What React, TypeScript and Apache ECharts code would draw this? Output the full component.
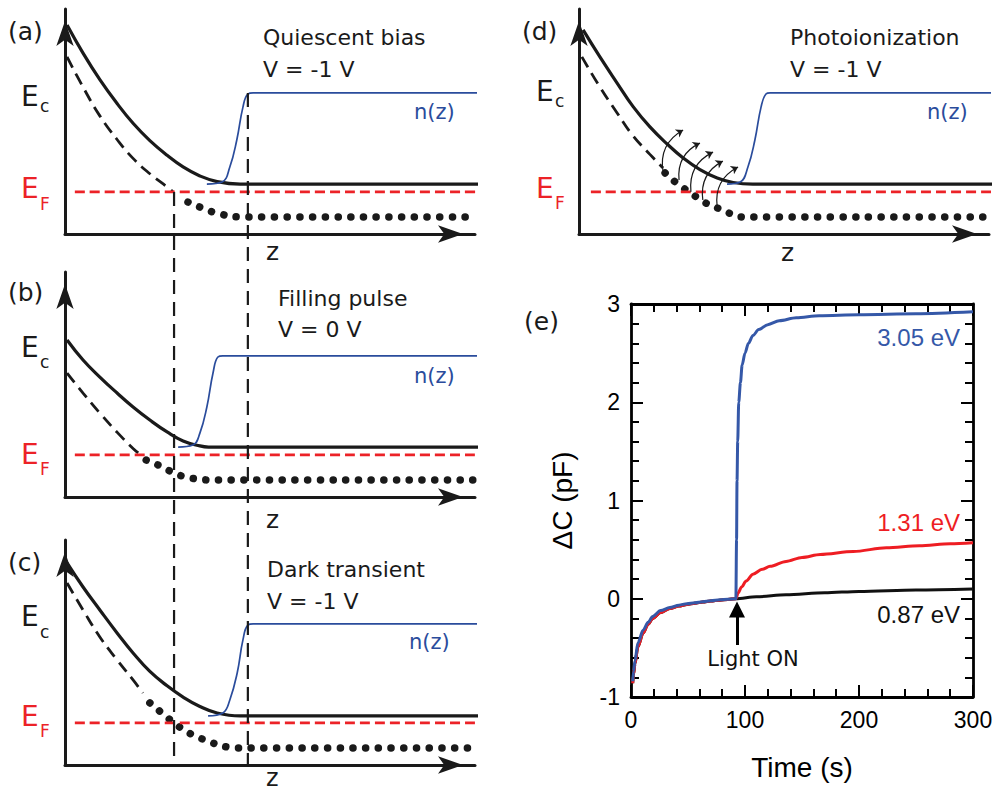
import React, { useEffect, useRef } from "react";
import * as echarts from "echarts";

// ---------- Schematic panels (arbitrary units: z 0..100, energy 0..100) ----------
// Panel (a) Quiescent bias
const aEc = [[0.5, 92.9], [4.4, 80.4], [8.5, 68.6], [12.7, 58], [16.6, 49.2], [20.7, 41.5], [24.9, 35], [28.8, 29.8], [32.9, 25.8], [37.1, 23.3], [42.7, 22.2], [101.7, 22.2]];
const aTrap = [[0.5, 78.7], [4.4, 65.3], [8.5, 52.5], [12.7, 42], [16.6, 33.6], [20.7, 26.8], [24.9, 20.9], [26.3, 18.9]];
const aTrapFilled = [[30, 14.2], [33.4, 11.6], [37, 9.3], [42.7, 7.6], [98.8, 7.6]];
const aEF = [[2.4, 18.7], [101.7, 18.7]];
const aN = [[34.6, 22.2], [38.3, 23.1], [40.2, 29.8], [41.9, 41.8], [43.4, 56.4], [44.6, 62.2], [45.9, 62.7], [100.7, 62.7]];

// Panel (b) Filling pulse
const bEc = [[0.5, 69.8], [4.4, 60.9], [8.5, 53.3], [12.7, 46.2], [16.6, 40], [20.7, 34.2], [24.9, 28.9], [28.8, 24.9], [32.9, 22.7], [35, 22.2], [102.4, 22.2]];
const bTrap = [[0.5, 55.1], [4.4, 46.2], [8.5, 37.3], [12.7, 28.8], [16.6, 21.6], [18.8, 18.2]];
const bTrapFilled = [[19.8, 16.4], [23.2, 13.8], [26.1, 11.1], [29.3, 8.9], [32.2, 8], [34.9, 7.6], [100.7, 7.6]];
const bEF = [[2.4, 18.7], [102.4, 18.7]];
const bN = [[27.6, 22.2], [31.2, 23.1], [32.9, 28.4], [34.6, 40], [36.1, 55.1], [37.3, 62.2], [38.5, 62.7], [101.7, 62.7]];

// Panel (c) Dark transient
const cEc = [[0.5, 89.8], [4.4, 79.1], [8.5, 68.9], [12.7, 58.7], [16.6, 49.8], [20.7, 41.6], [24.9, 35.2], [28.8, 30.2], [32.9, 26], [37.1, 23.1], [42.7, 21.8], [101.2, 21.8]];
const cTrap = [[0.5, 80.9], [4.4, 68.9], [8.5, 56.9], [12.7, 46.7], [16.6, 37.8], [19, 32]];
const cTrapFilled = [[20.7, 27.6], [23.9, 22.7], [26.6, 18.7], [29.8, 14.7], [32.9, 12], [36, 9.8], [39.5, 8], [42.2, 7.6], [98.8, 7.6]];
const cEF = [[2.4, 18.7], [101.2, 18.7]];
const cN = [[34.9, 21.8], [38.5, 23.1], [40.2, 28.9], [42, 40.9], [43.4, 55.6], [44.6, 62.2], [45.9, 62.7], [100.7, 62.7]];

// Panel (d) Photoionization
const dEc = [[1, 90.7], [5.1, 78.7], [9.3, 67.1], [13.2, 56.6], [17.3, 47.6], [21.5, 40], [25.4, 33.8], [29.5, 28.6], [33.7, 24.9], [37.6, 22.9], [42.4, 22.2], [101.7, 22.2]];
const dTrap = [[0.7, 78.7], [5.1, 65.3], [9.3, 53.8], [13.2, 43.6], [17.3, 35.4], [20.5, 29.3]];
const dTrapFilled = [[21, 27.1], [24.1, 22.2], [27.3, 18.2], [30.5, 14.2], [33.7, 11.6], [36.6, 9.3], [39.8, 7.6], [99.8, 7.6]];
const dEF = [[2.9, 18.7], [101.7, 18.7]];
const dN = [[36.1, 22.2], [39.3, 23.1], [41.2, 29.8], [42.9, 41.8], [44.4, 56.4], [45.6, 62.2], [46.6, 62.7], [101.7, 62.7]];
const dEmission = [
  [[20.5, 27.6], [25.4, 46.2]],
  [[24.4, 24], [29.5, 40.4]],
  [[27.3, 18.7], [32.7, 36.4]],
  [[30.2, 15.1], [35.1, 32.4]],
  [[33.7, 12], [38.8, 29.8]],
];

// Vertical guides through panels (a)-(c) (overlay units: z 0..100, height 0..100)
const guideLeft = [[26.6, 75.8], [26.6, 0]];
const guideRight = [[44.6, 88.9], [44.6, 0]];

// ---------- Panel (e): capacitance transients ----------
const dc087 = [[1.5, -0.86], [2.2, -0.77], [3.5, -0.66], [6, -0.49], [10.6, -0.35], [15, -0.26], [19, -0.2], [26, -0.14], [34, -0.1], [42, -0.075], [49, -0.058], [56, -0.045], [63, -0.034], [70, -0.024], [78, -0.014], [85, -0.007], [92, 0], [110, 0.02], [136, 0.04], [170, 0.06], [200, 0.075], [250, 0.09], [300, 0.1]];
const dc131 = [[1.5, -0.86], [2.2, -0.77], [3.5, -0.66], [6, -0.49], [10.6, -0.35], [15, -0.26], [19, -0.2], [26, -0.14], [34, -0.1], [42, -0.075], [49, -0.058], [56, -0.045], [63, -0.034], [70, -0.024], [78, -0.014], [85, -0.007], [92, 0], [94, 0.06], [97, 0.12], [101, 0.18], [107, 0.25], [115, 0.3], [122, 0.33], [136, 0.38], [150, 0.42], [166, 0.45], [195, 0.48], [224, 0.52], [253, 0.54], [280, 0.56], [300, 0.57]];
const dc305 = [[1.5, -0.84], [2.2, -0.74], [3.5, -0.63], [6, -0.45], [10.6, -0.32], [15, -0.24], [19, -0.18], [26, -0.12], [34, -0.09], [42, -0.065], [49, -0.05], [56, -0.04], [63, -0.03], [70, -0.02], [78, -0.01], [85, -0.005], [92, 0], [92.6, 0.6], [93, 1.2], [93.6, 1.6], [94.5, 2.0], [96, 2.2], [97.5, 2.38], [100, 2.5], [103, 2.6], [107, 2.68], [112, 2.74], [120, 2.79], [130, 2.83], [145, 2.86], [165, 2.88], [200, 2.89], [250, 2.9], [300, 2.92]];
const lightOn = [[93, -0.47], [93, -0.11]];
const xTickLabels = ["0", "100", "200", "300"];

const S_FONT = "DejaVu Sans";
const P_FONT = "Liberation Sans";
const BLACK = "#1a1a1a";
const RED = "#ec2227";
const BLUE_S = "#2a4c9c";
const BLUE_P = "#3558a8";

function txt(text: string, x: number, y: number, size: number, color = BLACK, align = "left", family = S_FONT) {
  return {
    type: "text",
    x,
    y,
    silent: true,
    style: { text, fill: color, fontSize: size, fontFamily: family, align, verticalAlign: "middle" },
  };
}

const schemGrids = [
  { left: 65, top: 9, width: 410, height: 225 },
  { left: 65, top: 272, width: 410, height: 225 },
  { left: 65, top: 540, width: 410, height: 225 },
  { left: 579, top: 9, width: 410, height: 225 },
];

function arrowAxis(gridIndex: number) {
  return {
    type: "value",
    gridIndex,
    min: 0,
    max: 100,
    axisLine: {
      show: true,
      onZero: false,
      symbol: ["none", "arrow"],
      symbolSize: [13, 25],
      symbolOffset: [0, -12],
      lineStyle: { color: BLACK, width: 3 },
    },
    axisTick: { show: false },
    axisLabel: { show: false },
    splitLine: { show: false },
  };
}

function lineS(idx: number, data: number[][], style: any, z = 2) {
  return {
    type: "line",
    xAxisIndex: idx,
    yAxisIndex: idx,
    data,
    smooth: 0.45,
    symbol: "none",
    clip: false,
    silent: true,
    z,
    lineStyle: style,
  };
}

function panelSeries(idx: number, ec: number[][], trap: number[][], filled: number[][], ef: number[][], n: number[][]) {
  return [
    lineS(idx, ec, { color: BLACK, width: 3.2 }),
    lineS(idx, trap, { color: BLACK, width: 2.8, type: [12, 7] }),
    lineS(idx, filled, { color: BLACK, width: 7.5, type: [0.1, 12.6], cap: "round" }),
    lineS(idx, ef, { color: RED, width: 2.8, type: [10, 5] }),
    lineS(idx, n, { color: BLUE_S, width: 1.7 }, 3),
  ];
}

function eXAxis(position: string, labels: boolean) {
  return {
    type: "value",
    gridIndex: 5,
    position,
    min: 0,
    max: 300,
    interval: 100,
    axisLine: { show: true, onZero: false, lineStyle: { color: "#000", width: 2.8 } },
    axisTick: { show: true, inside: true, length: 12, lineStyle: { color: "#000", width: 2 } },
    minorTick: { show: true, splitNumber: 5, length: 8, lineStyle: { color: "#000", width: 2 } },
    axisLabel: { show: labels, fontSize: 23, color: "#000", fontFamily: P_FONT, margin: 11, formatter: (v: number) => xTickLabels[Math.round(v / 100)] ?? "" },
    splitLine: { show: false },
    minorSplitLine: { show: false },
    name: labels ? "Time (s)" : "",
    nameLocation: "middle",
    nameGap: 56,
    nameTextStyle: { fontSize: 28, color: "#000", fontFamily: P_FONT },
  };
}

function eYAxis(position: string, labels: boolean) {
  return {
    type: "value",
    gridIndex: 5,
    position,
    min: -1,
    max: 3,
    interval: 1,
    axisLine: { show: true, onZero: false, lineStyle: { color: "#000", width: 2.8 } },
    axisTick: { show: true, inside: true, length: 12, lineStyle: { color: "#000", width: 2 } },
    minorTick: { show: true, splitNumber: 5, length: 8, lineStyle: { color: "#000", width: 2 } },
    axisLabel: { show: labels, fontSize: 23, color: "#000", fontFamily: P_FONT, margin: 11 },
    splitLine: { show: false },
    minorSplitLine: { show: false },
    name: labels ? "ΔC (pF)" : "",
    nameLocation: "middle",
    nameGap: 55,
    nameTextStyle: { fontSize: 28, color: "#000", fontFamily: P_FONT },
  };
}

const hiddenAxis = (gridIndex: number) => ({ type: "value", gridIndex, min: 0, max: 100, show: false });

function buildOption() {
  const grid: any[] = schemGrids.map((g) => ({ ...g, outerBoundsMode: "none" }));
  grid.push({ left: 65, top: 9, width: 410, height: 756, outerBoundsMode: "none" });
  grid.push({ left: 631, top: 304, width: 342, height: 393, outerBoundsMode: "none" });

  const xAxis: any[] = [arrowAxis(0), arrowAxis(1), arrowAxis(2), arrowAxis(3), hiddenAxis(4), eXAxis("bottom", true), eXAxis("top", false)];
  const yAxis: any[] = [arrowAxis(0), arrowAxis(1), arrowAxis(2), arrowAxis(3), hiddenAxis(4), eYAxis("left", true), eYAxis("right", false)];

  const series: any[] = [
    ...panelSeries(0, aEc, aTrap, aTrapFilled, aEF, aN),
    ...panelSeries(1, bEc, bTrap, bTrapFilled, bEF, bN),
    ...panelSeries(2, cEc, cTrap, cTrapFilled, cEF, cN),
    ...panelSeries(3, dEc, dTrap, dTrapFilled, dEF, dN),
    {
      type: "lines",
      coordinateSystem: "cartesian2d",
      xAxisIndex: 3,
      yAxisIndex: 3,
      symbol: ["none", "arrow"],
      symbolSize: 7,
      silent: true,
      lineStyle: { color: BLACK, width: 1.2, curveness: 0.35, opacity: 1 },
      data: dEmission.map((c) => ({ coords: c })),
      z: 4,
    },
    { type: "line", xAxisIndex: 4, yAxisIndex: 4, data: guideLeft, symbol: "none", silent: true, lineStyle: { color: BLACK, width: 2.2, type: [14, 8] } },
    { type: "line", xAxisIndex: 4, yAxisIndex: 4, data: guideRight, symbol: "none", silent: true, lineStyle: { color: BLACK, width: 2.2, type: [14, 8] } },
    { type: "line", name: "0.87 eV", xAxisIndex: 5, yAxisIndex: 5, data: dc087, smooth: 0.3, smoothMonotone: "x", symbol: "none", silent: true, lineStyle: { color: "#111", width: 3 } },
    { type: "line", name: "1.31 eV", xAxisIndex: 5, yAxisIndex: 5, data: dc131, smooth: 0.3, smoothMonotone: "x", symbol: "none", silent: true, lineStyle: { color: "#ee1d23", width: 3 } },
    { type: "line", name: "3.05 eV", xAxisIndex: 5, yAxisIndex: 5, data: dc305, smooth: 0.3, smoothMonotone: "x", symbol: "none", silent: true, lineStyle: { color: BLUE_P, width: 3 } },
    {
      type: "lines",
      coordinateSystem: "cartesian2d",
      xAxisIndex: 5,
      yAxisIndex: 5,
      symbol: ["none", "triangle"],
      symbolSize: 16,
      silent: true,
      lineStyle: { color: "#000", width: 3, curveness: 0, opacity: 1 },
      data: [{ coords: lightOn }],
    },
  ];

  const graphic: any[] = [
    // (a)
    txt("(a)", 8, 31, 25),
    txt("Quiescent bias", 263, 37, 22),
    txt("V = -1 V", 263, 69, 22),
    txt("E", 21, 96, 28),
    txt("c", 40, 106, 17),
    txt("E", 21, 188, 28, RED),
    txt("F", 40, 204, 17, RED),
    txt("n(z)", 414, 112, 21, BLUE_S),
    txt("z", 266, 251, 25),
    // (b)
    txt("(b)", 8, 292, 25),
    txt("Filling pulse", 278, 298, 22),
    txt("V = 0 V", 278, 329, 22),
    txt("E", 21, 347, 28),
    txt("c", 40, 362, 17),
    txt("E", 21, 454, 28, RED),
    txt("F", 40, 469, 17, RED),
    txt("n(z)", 414, 376, 21, BLUE_S),
    txt("z", 266, 519, 25),
    // (c)
    txt("(c)", 8, 562, 25),
    txt("Dark transient", 267, 569, 22),
    txt("V = -1 V", 267, 601, 22),
    txt("E", 21, 616, 28),
    txt("c", 40, 632, 17),
    txt("E", 21, 716, 28, RED),
    txt("F", 40, 731, 17, RED),
    txt("n(z)", 409, 642, 21, BLUE_S),
    txt("z", 266, 778, 24),
    // (d)
    txt("(d)", 522, 31, 25),
    txt("Photoionization", 790, 37, 22),
    txt("V = -1 V", 790, 69, 22),
    txt("E", 536, 91, 28),
    txt("c", 555, 101, 17),
    txt("E", 536, 188, 28, RED),
    txt("F", 555, 203, 17, RED),
    txt("n(z)", 927, 112, 21, BLUE_S),
    txt("z", 781, 252, 25),
    // (e)
    txt("(e)", 524, 321, 25),
    txt("3.05 eV", 960, 337, 24, BLUE_P, "right", P_FONT),
    txt("1.31 eV", 960, 522, 24, "#ee1d23", "right", P_FONT),
    txt("0.87 eV", 960, 614, 24, "#111", "right", P_FONT),
    txt("Light ON", 753, 659, 21, "#111", "center"),
  ];

  return { animation: false, backgroundColor: "#fff", grid, xAxis, yAxis, series, graphic };
}

export default function App() {
  const ref = useRef<HTMLDivElement>(null);
  useEffect(() => {
    const chart = echarts.init(ref.current!, null, { renderer: "svg" });
    chart.setOption(buildOption() as any);
    return () => chart.dispose();
  }, []);
  return <div ref={ref} style={{ position: "fixed", left: 0, top: 0, width: 996, height: 792 }} />;
}
